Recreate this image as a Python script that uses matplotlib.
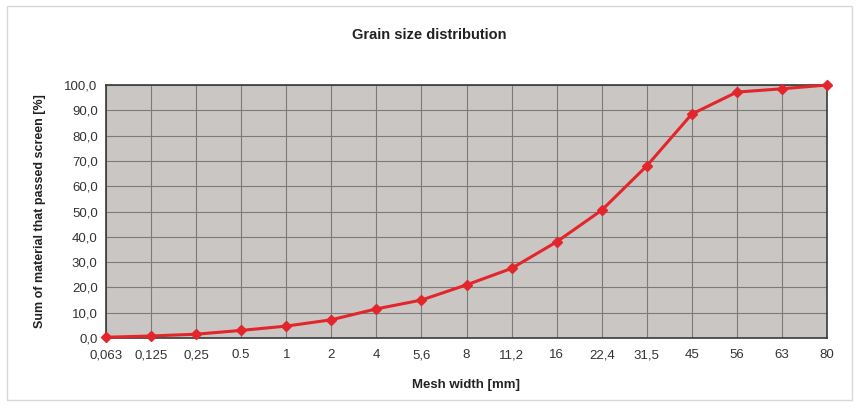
import numpy as np
import matplotlib.pyplot as plt
from matplotlib.patches import Rectangle

# Daten
mesh_labels = ["0,063", "0,125", "0,25", "0.5", "1", "2", "4", "5,6", "8",
               "11,2", "16", "22,4", "31,5", "45", "56", "63", "80"]
passed = [0.3, 0.8, 1.5, 3.0, 4.7, 7.2, 11.5, 15.0, 21.0,
          27.5, 38.0, 50.5, 68.0, 88.5, 97.2, 98.5, 100.0]
y_ticks = [0, 10, 20, 30, 40, 50, 60, 70, 80, 90, 100]

plt.rcParams["font.family"] = ["Liberation Sans", "DejaVu Sans"]

fig = plt.figure(figsize=(8.59, 4.08), dpi=100)
fig.patch.set_facecolor("white")
# cornice esterna
fig.patches.append(Rectangle((0.008, 0.02), 0.984, 0.965, transform=fig.transFigure,
                             fill=False, edgecolor="#d8d8d8", linewidth=1))

ax = fig.add_axes([106 / 859, 1 - 338 / 408, (827 - 106) / 859, (338 - 85) / 408])
ax.set_facecolor("#c9c6c4")

x = np.arange(len(mesh_labels))
ax.plot(x, passed, color="#e3262b", linewidth=2.2, marker="D", markersize=5.5,
        markeredgecolor="#e3262b", zorder=3, clip_on=False)

ax.set_xlim(0, len(mesh_labels) - 1)
ax.set_ylim(0, 100)
ax.set_xticks(x)
ax.set_xticklabels(mesh_labels, fontsize=9.5, color="#333333")
ax.set_yticks(y_ticks)
ax.set_yticklabels([f"{v:.1f}".replace(".", ",") for v in y_ticks], fontsize=9.5, color="#333333")
ax.tick_params(axis="x", length=0, pad=8)
ax.tick_params(axis="y", length=0, pad=6)

ax.grid(True, color="#7d7b7a", linewidth=0.8)
ax.set_axisbelow(True)
for s in ax.spines.values():
    s.set_color("#3a3a3a")
    s.set_linewidth(1.2)

ax.set_xlabel("Mesh width [mm]", fontsize=9.5, fontweight="bold", color="#222222", labelpad=13)
ax.set_ylabel("Sum of material that passed screen [%]", fontsize=9, fontweight="bold",
              color="#222222", labelpad=13)
fig.text(0.5, 1 - 35 / 408, "Grain size distribution", ha="center", va="center",
         fontsize=10.5, fontweight="bold", color="#222222")

fig.savefig("out.png", dpi=100)
